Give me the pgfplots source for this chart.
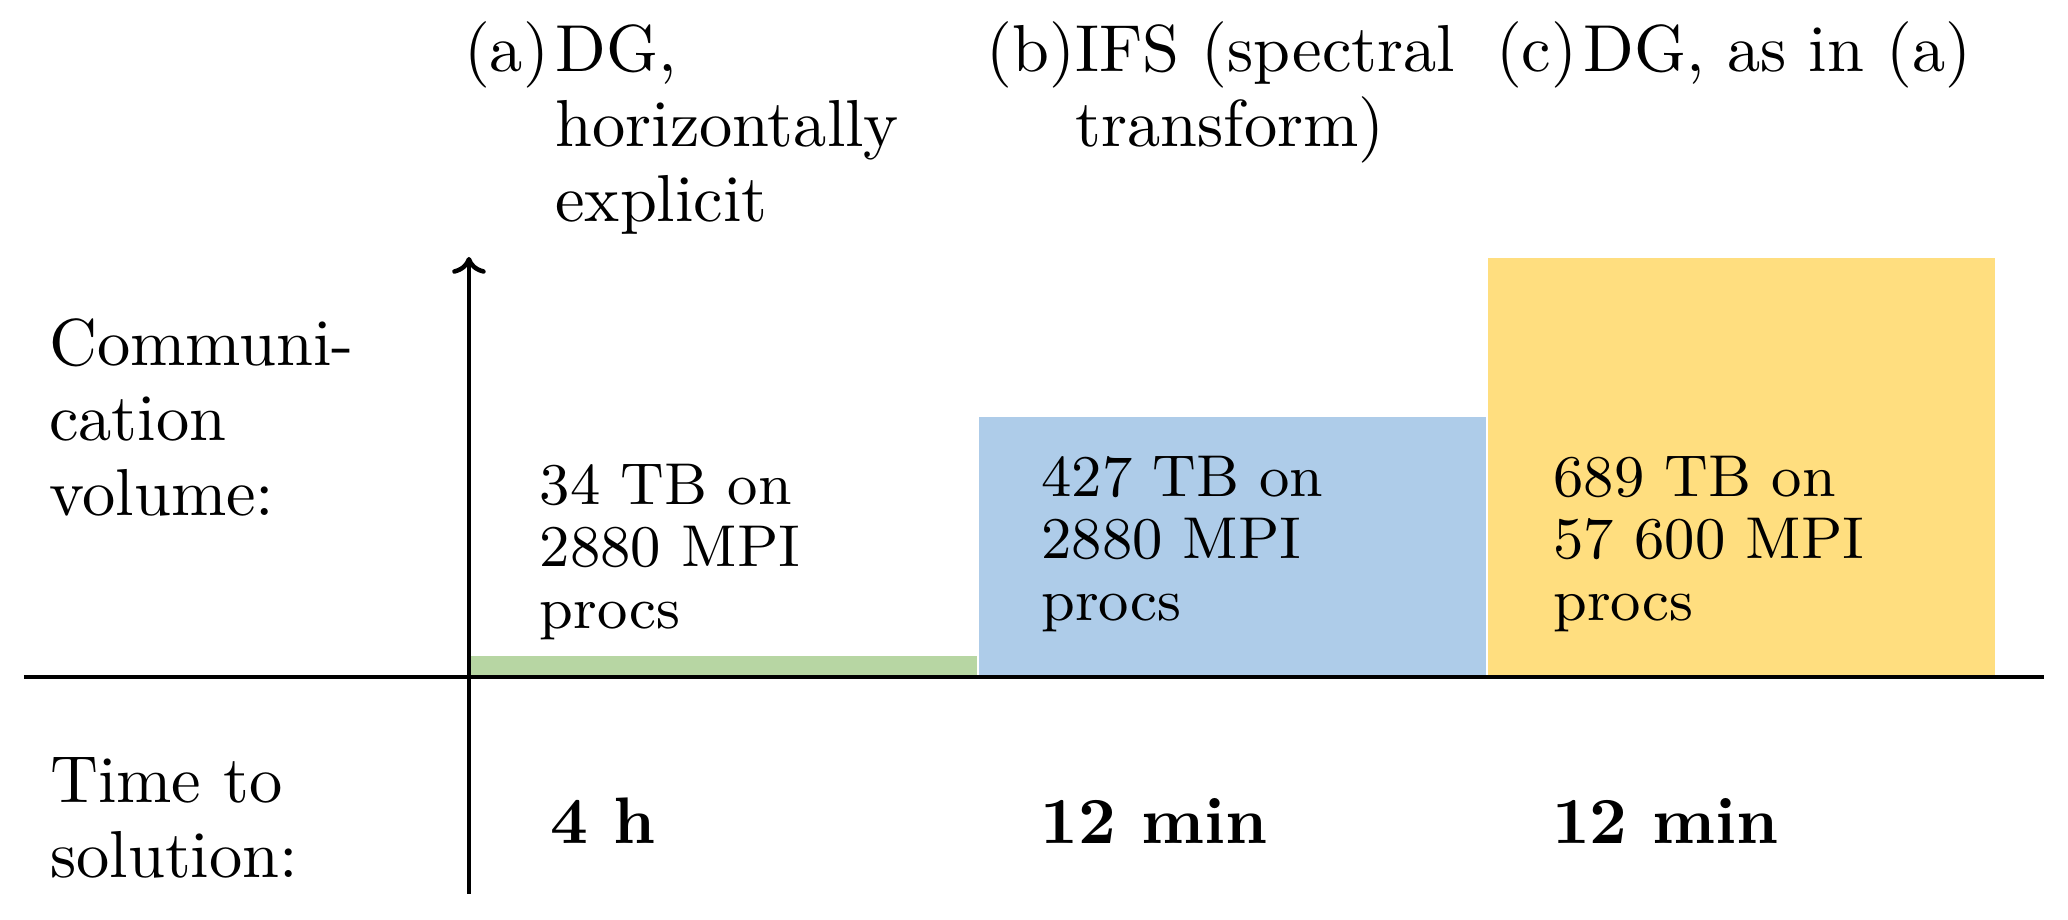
\documentclass[border=0pt]{standalone}
\usepackage{fontspec}
\usepackage{pgfplots}
\pgfplotsset{compat=1.18}
\usetikzlibrary{arrows.meta}

\definecolor{barA}{RGB}{183,214,163}
\definecolor{barB}{RGB}{174,204,233}
\definecolor{barC}{RGB}{255,222,127}

\begin{document}
\begin{tikzpicture}[
    lbl/.style={inner sep=0pt, anchor=base west, font=\fontsize{10.3}{11.6}\selectfont},
    sml/.style={inner sep=0pt, anchor=base west, font=\fontsize{9.15}{9.6}\selectfont},
    bld/.style={inner sep=0pt, anchor=base west, font=\fontsize{10.2}{11.7}\selectfont\bfseries}
]
\begin{axis}[
    name=ax,
    scale only axis,
    width=313.2pt, height=98.76pt,
    xmin=-0.874, xmax=3.094,
    ymin=-356.5, ymax=690,
    axis lines=middle,
    axis line style={line width=0.7pt},
    x axis line style={-},
    y axis line style={-{To[length=2.6pt,width=5.2pt]}},
    xtick=\empty, ytick=\empty,
    axis on top,
    clip=false,
    ybar,
    bar width=0.996
]
% communication volume in TB
\addplot[ybar, bar shift=0pt, fill=barA, draw=none] coordinates {(0.5,34)};
\addplot[ybar, bar shift=0pt, fill=barB, draw=none] coordinates {(1.5,427)};
\addplot[ybar, bar shift=0pt, fill=barC, draw=none] coordinates {(2.5,689)};

% row labels
\node[lbl] at (axis cs:-0.827,511) {\begin{tabular}[t]{@{}l@{}}Communi-\\cation\\volume:\end{tabular}};
\node[lbl] at (axis cs:-0.825,-207) {\begin{tabular}[t]{@{}l@{}}Time to\\solution:\end{tabular}};

% column headings
\node[lbl] at (axis cs:-0.012,994) {(a)\hspace{1pt}\parbox[t]{64pt}{\raggedright DG, horizontally explicit}};
\node[lbl] at (axis cs:1.015,994) {(b)\parbox[t]{64pt}{\raggedright IFS (spectral transform)}};
\node[lbl] at (axis cs:2.015,994) {(c)\hspace{1pt}\parbox[t]{64pt}{\raggedright DG, as in (a)}};

% bar texts
\node[sml] at (axis cs:0.137,283) {\begin{tabular}[t]{@{}l@{}}34 TB on\\2880 MPI\\procs\end{tabular}};
\node[sml] at (axis cs:1.122,296) {\begin{tabular}[t]{@{}l@{}}427 TB on\\2880 MPI\\procs\end{tabular}};
\node[sml] at (axis cs:2.128,296) {\begin{tabular}[t]{@{}l@{}}689 TB on\\57 600 MPI\\procs\end{tabular}};

% time to solution
\node[bld] at (axis cs:0.157,-273) {4 h};
\node[bld] at (axis cs:1.121,-273) {12 min};
\node[bld] at (axis cs:2.125,-273) {12 min};
\end{axis}
\path ([shift={(-3.72pt,-4.03pt)}]ax.south west) rectangle ([shift={(3.72pt,39.84pt)}]ax.north east);
\end{tikzpicture}
\end{document}
